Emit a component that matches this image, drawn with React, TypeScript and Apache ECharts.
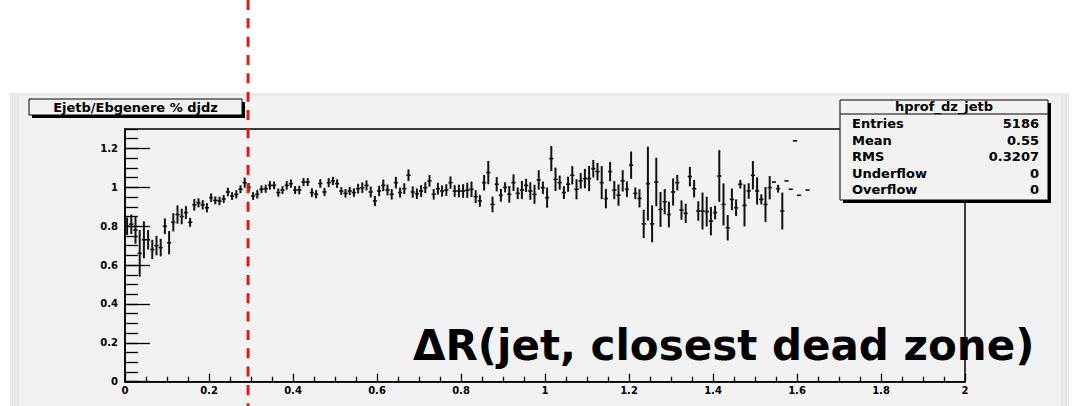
import React, { useEffect, useRef } from "react";
import * as echarts from "echarts";

// Profile histogram hprof_dz_jetb: 200 bins on [0, 2], bin width 0.01
const BIN_WIDTH = 0.01;
const X_MIN = 0;
const X_MAX = 2;
const Y_MIN = 0;
const Y_MAX = 1.3;

// mean of Ejetb/Ebgenere in each bin (null = empty bin)
const profileMeans: (number | null)[] = [
  0.80, 0.81, 0.78, 0.66, 0.73, 0.73, 0.68, 0.70, 0.69, 0.80,
  0.715, 0.82, 0.86, 0.85, 0.87, 0.82, 0.91, 0.92, 0.91, 0.895,
  0.947, 0.933, 0.93, 0.94, 0.976, 0.955, 0.964, 0.99, 1.024, 1.0,
  0.955, 0.964, 0.99, 0.993, 1.01, 1.01, 0.973, 0.986, 1.01, 1.019,
  0.986, 0.986, 1.027, 1.027, 0.973, 0.964, 1.02, 0.976, 1.024, 1.033,
  1.019, 0.981, 0.969, 0.981, 0.973, 0.993, 0.998, 1.01, 0.976, 0.93,
  0.981, 1.01, 0.986, 0.964, 1.024, 0.973, 0.993, 1.062, 0.976, 0.967,
  0.981, 0.998, 1.033, 0.964, 0.993, 0.981, 0.986, 1.024, 0.981, 0.981,
  0.981, 0.985, 0.99, 0.952, 0.93, 1.024, 1.076, 0.912, 1.016, 0.959,
  1.0, 0.964, 1.024, 0.969, 0.986, 1.01, 0.981, 0.964, 1.038, 0.998,
  0.947, 1.148, 1.041, 1.024, 0.973, 1.016, 1.062, 0.99, 1.033, 1.045,
  1.045, 1.096, 1.081, 1.024, 0.942, 1.081, 0.986, 0.96, 1.033, 0.99,
  1.114, 0.969, 0.943, 0.812, 1.019, 0.812, 1.027, 0.886, 0.926, 0.86,
  0.976, 1.024, 0.883, 0.866, 1.055, 0.993, 0.878, 0.878, 0.875, 0.826,
  0.87, 1.058, 0.912, 0.792, 0.938, 0.895, 1.016, 0.907, 0.981, 1.062,
  0.981, 0.938, 0.912, 0.998, 1.027, 0.993, 0.878, 1.033, 0.99, 1.239,
  0.959, null, 0.986,
];

// error on the mean in each bin
const profileErrors: number[] = [
  0.045, 0.05, 0.07, 0.12, 0.095, 0.05, 0.05, 0.05, 0.045, 0.04,
  0.06, 0.047, 0.047, 0.04, 0.033, 0.023, 0.03, 0.023, 0.024, 0.024,
  0.022, 0.02, 0.022, 0.02, 0.022, 0.02, 0.021, 0.02, 0.026, 0.022,
  0.02, 0.022, 0.02, 0.021, 0.022, 0.02, 0.021, 0.02, 0.022, 0.021,
  0.02, 0.022, 0.021, 0.02, 0.022, 0.021, 0.022, 0.02, 0.023, 0.021,
  0.022, 0.02, 0.022, 0.021, 0.022, 0.025, 0.027, 0.026, 0.028, 0.026,
  0.027, 0.03, 0.028, 0.027, 0.03, 0.026, 0.028, 0.03, 0.029, 0.027,
  0.03, 0.028, 0.03, 0.027, 0.03, 0.029, 0.03, 0.032, 0.03, 0.033,
  0.035, 0.039, 0.04, 0.033, 0.03, 0.04, 0.06, 0.04, 0.037, 0.033,
  0.026, 0.043, 0.043, 0.03, 0.047, 0.034, 0.045, 0.049, 0.05, 0.032,
  0.052, 0.065, 0.06, 0.036, 0.033, 0.039, 0.047, 0.052, 0.04, 0.05,
  0.065, 0.045, 0.045, 0.085, 0.05, 0.05, 0.047, 0.055, 0.055, 0.04,
  0.07, 0.03, 0.047, 0.073, 0.19, 0.095, 0.125, 0.09, 0.065, 0.066,
  0.07, 0.04, 0.05, 0.05, 0.05, 0.045, 0.05, 0.095, 0.077, 0.073,
  0.035, 0.133, 0.108, 0.065, 0.056, 0.043, 0.022, 0.108, 0.04, 0.073,
  0.07, 0.026, 0.09, 0.06, 0.0, 0.02, 0.095, 0.0, 0.0, 0.0,
  0.0, 0.0, 0.0,
];

const CUT_DR = 0.293; // dashed red cut on ΔR

const histTitle = "Ejetb/Ebgenere % djdz";
const statsTitle = "hprof_dz_jetb";
const statsLabels = ["Entries", "Mean", "RMS", "Underflow", "Overflow"];
const statsValues = ["5186", "0.55", "0.3207", "0", "0"];
const axisCaption = "\u0394R(jet, closest dead zone)";

const FONT = "'DejaVu Sans', 'Liberation Sans', sans-serif";
const PANEL = "#f2f2f2";

export default function App() {
  const ref = useRef<HTMLDivElement>(null);

  useEffect(() => {
    if (!ref.current) return;
    const chart = echarts.init(ref.current, null, { renderer: "svg" });

    const data: number[][] = [];
    profileMeans.forEach((v, i) => {
      if (v === null) return;
      data.push([(i + 0.5) * BIN_WIDTH, v, profileErrors[i]]);
    });

    const labelStyle = {
      color: "#000",
      fontSize: 10,
      fontWeight: "bold" as const,
      fontFamily: FONT,
    };

    chart.setOption({
      animation: false,
      grid: {
        left: 125,
        right: 112,
        top: 129,
        bottom: 24.3,
        show: true,
        borderColor: "#000",
        borderWidth: 1.5,
        backgroundColor: "transparent",
        z: 1,
      },
      xAxis: {
        type: "value",
        min: X_MIN,
        max: X_MAX,
        interval: 0.2,
        axisLine: { show: true, lineStyle: { color: "#000", width: 1.5 } },
        axisTick: { show: true, inside: true, length: 8, lineStyle: { color: "#000", width: 1.3 } },
        minorTick: { show: true, splitNumber: 4, length: 5, lineStyle: { color: "#000", width: 1.3 } },
        axisLabel: { ...labelStyle, margin: 4 },
        splitLine: { show: false },
        minorSplitLine: { show: false },
      },
      yAxis: [
        {
          type: "value",
          min: Y_MIN,
          max: Y_MAX,
          interval: 0.2,
          axisLine: { show: true, lineStyle: { color: "#000", width: 1.5 } },
          axisTick: { show: true, inside: true, length: 25, lineStyle: { color: "#000", width: 1.3 } },
          axisLabel: { ...labelStyle, margin: 7, showMaxLabel: false },
          splitLine: { show: false },
        },
        {
          type: "value",
          min: Y_MIN,
          max: Y_MAX,
          interval: 0.05,
          position: "left",
          offset: 0,
          axisLine: { show: false },
          axisTick: { show: true, inside: true, length: 13, lineStyle: { color: "#000", width: 1.3 } },
          axisLabel: { show: false },
          splitLine: { show: false },
        },
      ],
      series: [
        {
          type: "custom",
          xAxisIndex: 0,
          yAxisIndex: 0,
          encode: { x: 0, y: 1 },
          data,
          z: 5,
          renderItem: (params: any, api: any) => {
            const c = api.value(0);
            const v = api.value(1);
            const e = api.value(2);
            const left = api.coord([c - BIN_WIDTH / 2, v]);
            const right = api.coord([c + BIN_WIDTH / 2, v]);
            const children: any[] = [
              {
                type: "line",
                shape: { x1: left[0], y1: left[1], x2: right[0], y2: right[1] },
                style: { stroke: "#111", lineWidth: 1.6 },
              },
            ];
            if (e > 0) {
              const top = api.coord([c, v + e]);
              const bot = api.coord([c, v - e]);
              children.push({
                type: "line",
                shape: { x1: top[0], y1: top[1], x2: bot[0], y2: bot[1] },
                style: { stroke: "#111", lineWidth: 2 },
              });
            }
            return { type: "group", children };
          },
        },
      ],
    });

    const cutX = chart.convertToPixel({ xAxisIndex: 0 }, CUT_DR) as number;

    const txt = (x: number, y: number, text: string, size: number, align: string, z: number) => ({
      type: "text",
      z,
      style: {
        x,
        y,
        text,
        fill: "#000",
        font: `bold ${size}px ${FONT}`,
        align,
        verticalAlign: "middle",
        textAlign: align,
        textVerticalAlign: "middle",
      },
    });

    const graphic: any[] = [
      { type: "rect", z: -20, shape: { x: 10, y: 93, width: 1059, height: 313 }, style: { fill: "#e9e9e9" } },
      { type: "rect", z: -19, shape: { x: 19, y: 96, width: 1042, height: 310 }, style: { fill: PANEL } },
      // histogram title pave
      { type: "rect", z: 50, shape: { x: 32, y: 102, width: 213, height: 16 }, style: { fill: "#000" } },
      { type: "rect", z: 51, shape: { x: 29, y: 99, width: 213, height: 16 }, style: { fill: PANEL, stroke: "#000", lineWidth: 1 } },
      txt(135.5, 107, histTitle, 13, "center", 52),
      // stats box
      { type: "rect", z: 50, shape: { x: 843, y: 103, width: 208, height: 100 }, style: { fill: "#000" } },
      { type: "rect", z: 51, shape: { x: 840, y: 100, width: 208, height: 100 }, style: { fill: PANEL, stroke: "#000", lineWidth: 1 } },
      txt(944, 106.5, statsTitle, 13, "center", 52),
      { type: "line", z: 52, shape: { x1: 840, y1: 114, x2: 1048, y2: 114 }, style: { stroke: "#000", lineWidth: 1 } },
      // big axis caption
      txt(413, 345, axisCaption, 42, "left", 60),
      // dashed cut line
      {
        type: "line",
        z: 100,
        shape: { x1: cutX, y1: 0, x2: cutX, y2: 406 },
        style: { stroke: "#d91c1c", lineWidth: 3, lineDash: [10, 8.33] },
      },
    ];
    statsLabels.forEach((lab, i) => {
      const y = 123.5 + 16.5 * i;
      graphic.push(txt(852, y, lab, 13, "left", 52));
      graphic.push(txt(1039, y, statsValues[i], 13, "right", 52));
    });

    chart.setOption({ graphic });

    return () => chart.dispose();
  }, []);

  return (
    <div
      ref={ref}
      style={{ position: "fixed", left: 0, top: 0, width: 1077, height: 406, background: "#fff" }}
    />
  );
}
